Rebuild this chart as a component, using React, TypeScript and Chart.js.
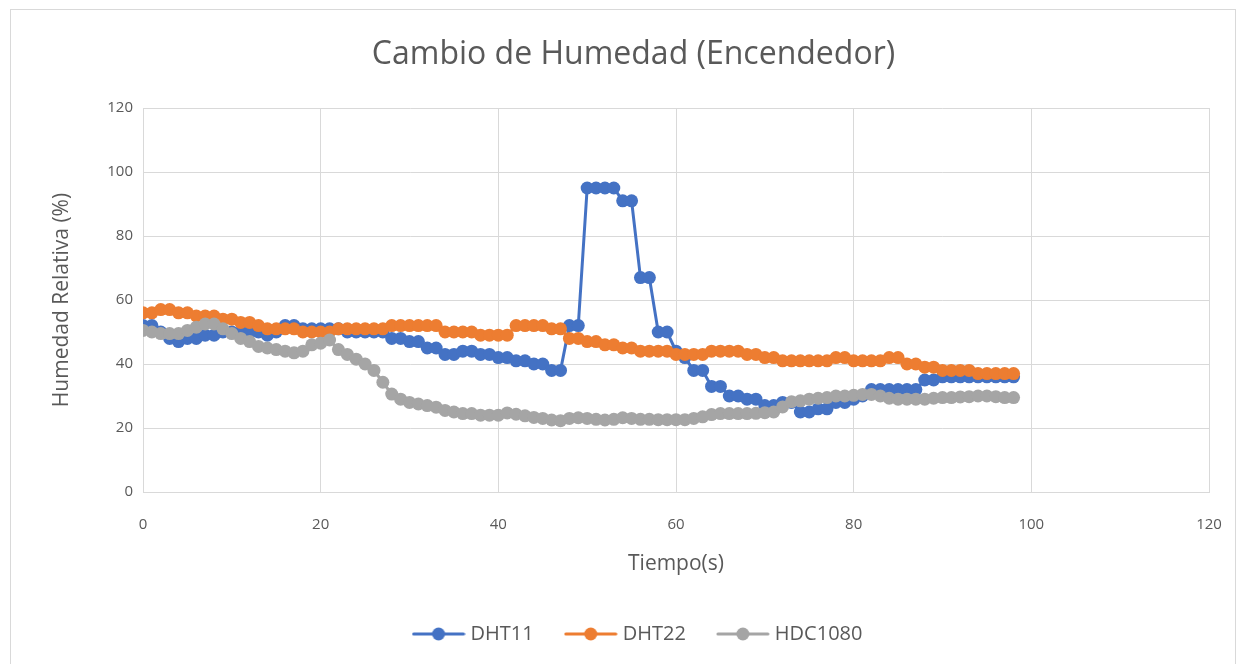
import React, { useEffect, useRef } from "react";
import { Chart, registerables } from "chart.js";

Chart.register(...registerables);

// ---- Data ----
const TIME_S = [
  0, 1, 2, 3, 4, 5, 6, 7, 8, 9,
  10, 11, 12, 13, 14, 15, 16, 17, 18, 19,
  20, 21, 22, 23, 24, 25, 26, 27, 28, 29,
  30, 31, 32, 33, 34, 35, 36, 37, 38, 39,
  40, 41, 42, 43, 44, 45, 46, 47, 48, 49,
  50, 51, 52, 53, 54, 55, 56, 57, 58, 59,
  60, 61, 62, 63, 64, 65, 66, 67, 68, 69,
  70, 71, 72, 73, 74, 75, 76, 77, 78, 79,
  80, 81, 82, 83, 84, 85, 86, 87, 88, 89,
  90, 91, 92, 93, 94, 95, 96, 97, 98,
];

const DHT11 = [
  52, 52, 50, 48, 47, 48, 48, 49, 49, 50,
  50, 50, 50, 50, 49, 50, 52, 52, 51, 51,
  51, 51, 51, 50, 50, 50, 50, 50, 48, 48,
  47, 47, 45, 45, 43, 43, 44, 44, 43, 43,
  42, 42, 41, 41, 40, 40, 38, 38, 52, 52,
  95, 95, 95, 95, 91, 91, 67, 67, 50, 50,
  44, 42, 38, 38, 33, 33, 30, 30, 29, 29,
  27, 27, 28, 28, 25, 25, 26, 26, 28, 28,
  29, 30, 32, 32, 32, 32, 32, 32, 35, 35,
  36, 36, 36, 36, 36, 36, 36, 36, 36,
];

const DHT22 = [
  56, 56, 57, 57, 56, 56, 55, 55, 55, 54,
  54, 53, 53, 52, 51, 51, 51, 51, 50, 50,
  50, 50, 51, 51, 51, 51, 51, 51, 52, 52,
  52, 52, 52, 52, 50, 50, 50, 50, 49, 49,
  49, 49, 52, 52, 52, 52, 51, 51, 48, 48,
  47, 47, 46, 46, 45, 45, 44, 44, 44, 44,
  43, 43, 43, 43, 44, 44, 44, 44, 43, 43,
  42, 42, 41, 41, 41, 41, 41, 41, 42, 42,
  41, 41, 41, 41, 42, 42, 40, 40, 39, 39,
  38, 38, 38, 38, 37, 37, 37, 37, 37,
];

const HDC1080 = [
  50.5, 50, 49.5, 49.5, 49.5, 50.5, 51.5, 52.5, 52.5, 51,
  49.5, 48, 47, 45.5, 45, 44.5, 44, 43.5, 44, 46,
  46.5, 47.5, 44.5, 43, 41.5, 40, 38, 34.3, 30.6, 29,
  28, 27.5, 27, 26.5, 25.5, 25, 24.5, 24.5, 24, 24,
  24, 24.7, 24.3, 23.8, 23.3, 23, 22.5, 22.3, 23, 23.2,
  23, 22.7, 22.5, 22.7, 23.2, 23, 22.7, 22.7, 22.6, 22.6,
  22.6, 22.6, 23, 23.5, 24.2, 24.5, 24.5, 24.5, 24.5, 24.6,
  24.8, 25, 26.6, 28.2, 28.5, 29, 29.3, 29.5, 30, 30,
  30.2, 30.5, 30.5, 30, 29.3, 29, 29, 29, 29, 29.3,
  29.5, 29.5, 29.7, 29.8, 30, 30, 29.8, 29.5, 29.5,
];

const SERIES_NAMES = ["DHT11", "DHT22", "HDC1080"];
const SERIES_COLORS = ["#4472C4", "#ED7D31", "#A5A5A5"];

const TITLE = "Cambio de Humedad (Encendedor)";
const X_TITLE = "Tiempo(s)";
const Y_TITLE = "Humedad Relativa (%)";
const AXIS_MIN = 0;
const AXIS_MAX = 120;
const AXIS_STEP = 20;

// ---- Styles ----
const FONT = "'Open Sans', 'Noto Sans', sans-serif";
const TEXT = "#595959";
const GRID = "#D9D9D9";
const LEGEND_DX = 35;
const LEGEND_DY = -10;
const TITLE_DX = 29;

function legendIcon(color: string): HTMLCanvasElement {
  const c = document.createElement("canvas");
  c.width = 54;
  c.height = 16;
  const g = c.getContext("2d")!;
  g.strokeStyle = color;
  g.lineWidth = 3;
  g.lineCap = "round";
  g.beginPath();
  g.moveTo(2, 8);
  g.lineTo(52, 8);
  g.stroke();
  g.fillStyle = color;
  g.beginPath();
  g.arc(27, 8, 6.5, 0, Math.PI * 2);
  g.fill();
  return c;
}

const framePlugin = {
  id: "frame",
  beforeDraw(chart: any) {
    const { ctx, width, height } = chart;
    ctx.save();
    ctx.fillStyle = "#FFFFFF";
    ctx.fillRect(0, 0, width, height);
    ctx.strokeStyle = GRID;
    ctx.lineWidth = 1;
    ctx.strokeRect(10.5, 9.5, 1225, height + 20);
    ctx.restore();
  },
};

const shiftPlugin = {
  id: "shiftBoxes",
  afterLayout(chart: any) {
    const l = chart.legend;
    if (l) {
      l.top += LEGEND_DY;
      l.bottom += LEGEND_DY;
      l.left += LEGEND_DX;
      l.right += LEGEND_DX;
    }
    const t = chart.titleBlock;
    if (t) {
      t.left += TITLE_DX;
      t.right += TITLE_DX;
    }
  },
};

export default function App() {
  const ref = useRef<HTMLCanvasElement>(null);

  useEffect(() => {
    const canvas = ref.current!;
    const seriesValues = [DHT11, DHT22, HDC1080];
    const icons = SERIES_COLORS.map(legendIcon);

    const datasets = seriesValues.map((vals, i) => ({
      label: SERIES_NAMES[i],
      data: TIME_S.map((t, j) => ({ x: t, y: vals[j] })),
      borderColor: SERIES_COLORS[i],
      backgroundColor: SERIES_COLORS[i],
      pointBackgroundColor: SERIES_COLORS[i],
      pointBorderColor: SERIES_COLORS[i],
      pointBorderWidth: 0,
      pointRadius: 6.5,
      pointHoverRadius: 6.5,
      borderWidth: 3,
      tension: 0,
      fill: false,
      order: 3 - i,
    }));

    const chart = new Chart(canvas, {
      type: "line",
      data: { datasets } as any,
      options: {
        animation: false,
        responsive: false,
        maintainAspectRatio: false,
        layout: { padding: { left: 0, right: 37, top: 0, bottom: 0 } },
        plugins: {
          tooltip: { enabled: false },
          title: {
            display: true,
            text: TITLE,
            color: TEXT,
            font: { family: FONT, size: 32, weight: "normal" as any },
            padding: { top: 36, bottom: 33.6 },
          },
          legend: {
            display: true,
            position: "bottom",
            labels: {
              usePointStyle: true,
              pointStyleWidth: 44,
              padding: 35,
              color: TEXT,
              font: { family: FONT, size: 20 },
              generateLabels: (ch: any) =>
                ch.data.datasets.map((ds: any, i: number) => ({
                  text: ds.label,
                  fillStyle: ds.borderColor,
                  strokeStyle: ds.borderColor,
                  lineWidth: 0,
                  hidden: false,
                  datasetIndex: i,
                  pointStyle: icons[i],
                  fontColor: TEXT,
                })),
            },
          },
        },
        scales: {
          x: {
            type: "linear",
            min: AXIS_MIN,
            max: AXIS_MAX,
            ticks: {
              stepSize: AXIS_STEP,
              color: TEXT,
              font: { family: FONT, size: 15 },
              padding: 24,
            },
            grid: { color: GRID, drawTicks: false },
            border: { color: GRID },
            title: {
              display: true,
              text: X_TITLE,
              color: TEXT,
              font: { family: FONT, size: 21 },
              padding: { top: 0, bottom: 22 },
            },
            afterFit: (s: any) => {
              s.height = 107;
            },
          },
          y: {
            type: "linear",
            min: AXIS_MIN,
            max: AXIS_MAX,
            ticks: {
              stepSize: AXIS_STEP,
              color: TEXT,
              font: { family: FONT, size: 15 },
              padding: 10,
            },
            grid: { color: GRID, drawTicks: false },
            border: { color: GRID },
            title: {
              display: true,
              text: Y_TITLE,
              color: TEXT,
              font: { family: FONT, size: 21 },
              padding: { top: 49, bottom: 0 },
            },
            afterFit: (s: any) => {
              s.width = 143;
            },
          },
        },
      },
      plugins: [framePlugin, shiftPlugin],
    } as any);

    return () => chart.destroy();
  }, []);

  return (
    <div style={{ position: "fixed", left: 0, top: 0, width: 1246, height: 664, background: "#fff" }}>
      <canvas ref={ref} width={1246} height={664} style={{ display: "block", width: 1246, height: 664 }} />
    </div>
  );
}
